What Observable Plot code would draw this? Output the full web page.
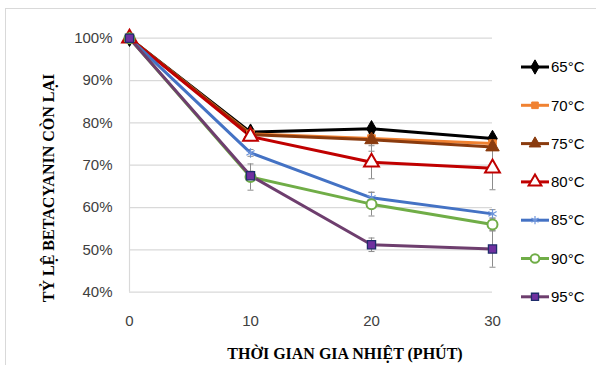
<!DOCTYPE html>
<html><head><meta charset="utf-8">
<script src="https://cdn.jsdelivr.net/npm/d3@7"></script>
<script src="https://cdn.jsdelivr.net/npm/@observablehq/plot@0.6"></script>
<style>body{margin:0;background:#fff}#chart{width:596px;height:365px}</style>
</head><body><div id="chart"></div>
<script>
// ---- data ----
const times = [0, 10, 20, 30];
const seriesNames = ["65°C", "70°C", "75°C", "80°C", "85°C", "90°C", "95°C"];
const v65 = [100, 77.8, 78.6, 76.3];
const v70 = [100, 77.4, 76.3, 75.1];
const v75 = [100, 77.2, 76.0, 74.3];
const v80 = [100, 76.8, 70.7, 69.3];
const v85 = [100, 72.9, 62.3, 58.5];
const v90 = [100, 67.2, 60.8, 56.0];
const v95 = [100, 67.5, 51.2, 50.2];
const e65 = [0, 0.5, 0.4, 0.4];
const e70 = [0, 0.6, 1.2, 0.5];
const e75 = [0, 0.8, 2.7, 0.6];
const e80 = [0, 1.0, 3.9, 5.1];
const e85 = [0, 0.8, 1.3, 1.0];
const e90 = [0, 3.1, 2.8, 1.5];
const e95 = [0, 1.1, 1.6, 4.3];
const yTicks = [40, 50, 60, 70, 80, 90, 100];
const xTicks = [0, 10, 20, 30];
const xTitle = "THỜI GIAN GIA NHIỆT (PHÚT)";
const yTitle = "TỶ LỆ BETACYANIN CÒN LẠI";

// ---- styles ----
const values = [v65, v70, v75, v80, v85, v90, v95];
const errors = [e65, e70, e75, e80, e85, e90, e95];
const lineColors = ["#000000", "#F08232", "#8A3B0E", "#C00000", "#4472C4", "#70AD47", "#6E3E6E"];
const markFill   = ["#000000", "#F08232", "#8A3B0E", "#ffffff", "none",    "#ffffff", "#7030A0"];
const markStroke = ["#000000", "#F08232", "#8A3B0E", "#C00000", "#6F95DA", "#70AD47", "#1F2D6B"];
const markSymbol = ["diamond", "square", "triangle", "triangle", "asterisk", "circle", "square"];
const markR      = [5, 4.3, 5, 5.5, 4.5, 5, 4.6];
const markSW     = [1, 1, 1, 2, 1.2, 2, 1.3];

const rows = [];
seriesNames.forEach((s, i) => times.forEach((t, j) => rows.push({s, i, t, v: values[i][j], e: errors[i][j]})));
const errRows = rows.filter(d => d.e > 0);
const capRows = errRows.flatMap(d => [{t: d.t, y: d.v - d.e}, {t: d.t, y: d.v + d.e}]);
const capSymbol = {draw(ctx, size) { const r = Math.sqrt(size) / 2; ctx.moveTo(-r, 0); ctx.lineTo(r, 0); }};

const marks = [
  Plot.gridY(yTicks, {stroke: "#d9d9d9", strokeOpacity: 1, strokeWidth: 1.2}),
  Plot.ruleX([0], {stroke: "#d9d9d9", strokeWidth: 1.2}),
  Plot.axisY(yTicks, {tickSize: 0, tickPadding: 17, tickFormat: d => d + "%", label: null, fill: "#404040"}),
  Plot.axisX(xTicks, {tickSize: 0, tickPadding: 23, label: null, fill: "#404040"}),
  Plot.ruleX(errRows, {x: "t", y1: d => d.v - d.e, y2: d => d.v + d.e, stroke: "#8c8c8c", strokeWidth: 1}),
  Plot.dot(capRows, {x: "t", y: "y", symbol: capSymbol, r: 3.4, stroke: "#8c8c8c", fill: "none", strokeWidth: 1})
];
seriesNames.forEach((s, i) => {
  const d = rows.filter(r => r.i === i);
  marks.push(Plot.line(d, {x: "t", y: "v", stroke: lineColors[i], strokeWidth: 3, curve: "linear"}));
});
seriesNames.forEach((s, i) => {
  const d = rows.filter(r => r.i === i);
  marks.push(Plot.dot(d, {x: "t", y: "v", symbol: markSymbol[i], r: markR[i], fill: markFill[i], stroke: markStroke[i], strokeWidth: markSW[i]}));
});

const plot = Plot.plot({
  width: 596, height: 365,
  marginLeft: 129, marginRight: 104, marginTop: 37.7, marginBottom: 73.3,
  x: {domain: [0, 30]},
  y: {domain: [40, 100]},
  style: {fontFamily: "'Liberation Sans', Arial, sans-serif", fontSize: "15px", background: "#fff", overflow: "visible"},
  marks
});
document.getElementById("chart").appendChild(plot);

// ---- frame, titles, legend ----
const svg = d3.select(plot);
svg.insert("rect", ":first-child").attr("x", 5.5).attr("y", 8.5).attr("width", 620).attr("height", 420)
  .attr("fill", "none").attr("stroke", "#d9d9d9");
svg.append("text").text(xTitle).attr("x", 345).attr("y", 353).attr("text-anchor", "middle").attr("dy", "0.35em")
  .style("font-family", "'Liberation Serif', 'Times New Roman', serif").style("font-weight", "bold").style("font-size", "16px").attr("fill", "#000");
svg.append("text").text(yTitle).attr("transform", "translate(48,188) rotate(-90)").attr("text-anchor", "middle").attr("dy", "0.35em")
  .style("font-family", "'Liberation Serif', 'Times New Roman', serif").style("font-weight", "bold").style("font-size", "16px").attr("fill", "#000");

const symMap = {diamond: d3.symbolDiamond, square: d3.symbolSquare, triangle: d3.symbolTriangle, asterisk: d3.symbolAsterisk, circle: d3.symbolCircle};
const leg = svg.append("g");
seriesNames.forEach((s, i) => {
  const y = 67 + i * 38.3;
  const g = leg.append("g").attr("transform", `translate(0,${y})`);
  g.append("line").attr("x1", 521).attr("x2", 549).attr("stroke", lineColors[i]).attr("stroke-width", 3);
  g.append("path").attr("transform", "translate(535,0)")
    .attr("d", d3.symbol(symMap[markSymbol[i]], Math.PI * markR[i] * markR[i] * 0.75)())
    .attr("fill", markFill[i]).attr("stroke", markStroke[i]).attr("stroke-width", markSW[i]);
  g.append("text").text(s).attr("x", 551).attr("dy", "0.35em").attr("text-anchor", "start")
    .style("font-family", "'Liberation Sans', Arial, sans-serif").style("font-size", "15px").attr("fill", "#000");
});
</script></body></html>
